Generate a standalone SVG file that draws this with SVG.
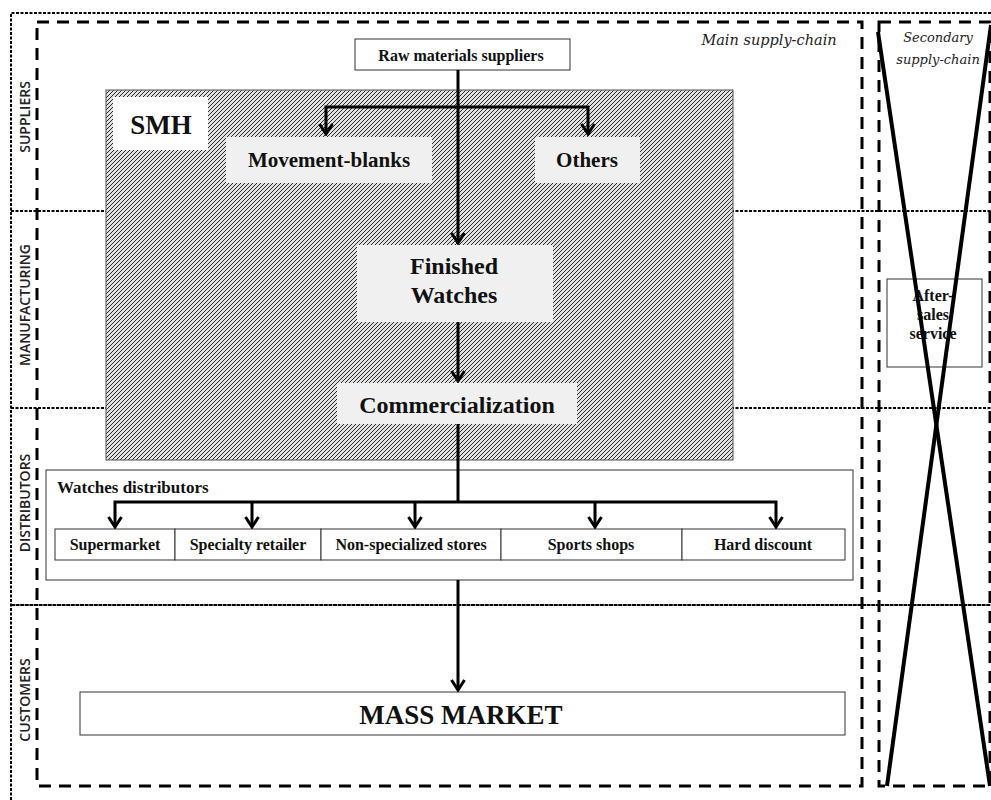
<svg xmlns="http://www.w3.org/2000/svg" width="991" height="800" viewBox="0 0 991 800">
<defs>
<pattern id="hatch" patternUnits="userSpaceOnUse" width="4" height="4">
<rect width="4" height="4" fill="#e0e0e0"/>
<path d="M-1,1 L1,-1 M0,4 L4,0 M3,5 L5,3" stroke="#2a2a2a" stroke-width="1"/>
</pattern>
<marker id="arr" viewBox="0 0 14 16" refX="12" refY="8" markerWidth="14" markerHeight="16" markerUnits="userSpaceOnUse" orient="auto-start-reverse">
<path d="M2,1.5 L12,8 L2,14.5" fill="none" stroke="#000" stroke-width="3"/>
</marker>
</defs>
<style>
.lane{stroke:#000;stroke-width:2;stroke-dasharray:3 1.5;fill:none}
.dash{stroke:#000;stroke-width:3;stroke-dasharray:12 8;fill:none}
.conn{stroke:#000;stroke-width:3;fill:none}
.box{fill:#fff;stroke:#333;stroke-width:1}
.gbox{fill:#f0f0f0;stroke:none}
.t{font-family:"Liberation Serif",serif;font-weight:bold;fill:#111;text-anchor:middle}
.lbl{font-family:"Open Sans","DejaVu Sans",sans-serif;font-size:14px;font-weight:600;fill:#222;text-anchor:middle}
.it{font-family:"DejaVu Serif","Liberation Serif",serif;font-style:italic;fill:#222;text-anchor:middle}
</style>
<rect width="991" height="800" fill="#fff"/>
<g id="frame">
<path class="lane" d="M11,800 V13 H991"/>
<line class="lane" x1="11" y1="211" x2="991" y2="211"/>
<line class="lane" x1="11" y1="408" x2="991" y2="408"/>
<line class="lane" x1="11" y1="605" x2="991" y2="605" style="stroke-dasharray:4 0.6"/>
<rect class="dash" x="37" y="22" width="825" height="764"/>
<rect class="dash" x="879" y="22" width="111" height="764"/>
</g>
<g id="lanes">
<text class="lbl" transform="translate(30,117) rotate(-90)">SUPPLIERS</text>
<text class="lbl" transform="translate(30,305) rotate(-90)">MANUFACTURING</text>
<text class="lbl" transform="translate(30,503) rotate(-90)">DISTRIBUTORS</text>
<text class="lbl" transform="translate(30,700) rotate(-90)">CUSTOMERS</text>
<text class="it" x="769" y="45" font-size="14.5">Main supply-chain</text>
<text class="it" x="938" y="42" font-size="13">Secondary</text>
<text class="it" x="938" y="64" font-size="13">supply-chain</text>
</g>
<g id="smh">
<rect x="106" y="90" width="627" height="370" fill="url(#hatch)" stroke="#555" stroke-width="1"/>
<rect x="113" y="97" width="95" height="53" fill="#fff"/>
<text class="t" x="161" y="134" font-size="27">SMH</text>
</g>
<g id="raw">
<rect class="box" x="355" y="39" width="215" height="31"/>
<text class="t" x="461" y="61" font-size="16">Raw materials suppliers</text>
</g>
<g id="movement">
<rect class="gbox" x="226" y="137" width="206" height="46"/>
<text class="t" x="329" y="167" font-size="21">Movement-blanks</text>
</g>
<g id="others">
<rect class="gbox" x="535" y="137" width="105" height="46"/>
<text class="t" x="587" y="167" font-size="21">Others</text>
</g>
<g id="finished">
<rect class="gbox" x="357" y="245" width="196" height="77"/>
<text class="t" x="454" y="274" font-size="24">Finished</text>
<text class="t" x="454" y="303" font-size="24">Watches</text>
</g>
<g id="commercialization">
<rect class="gbox" x="337" y="383" width="240" height="41"/>
<text class="t" x="457" y="413" font-size="24">Commercialization</text>
</g>
<g id="distributors">
<rect class="box" x="46" y="470" width="807" height="110" stroke="#555"/>
<text class="t" x="57" y="493" font-size="17" style="text-anchor:start">Watches distributors</text>
</g>
<g id="supermarket"><rect class="box" x="55" y="529" width="120" height="31"/><text class="t" x="115" y="550" font-size="16">Supermarket</text></g>
<g id="specialty"><rect class="box" x="175" y="529" width="146" height="31"/><text class="t" x="248" y="550" font-size="16">Specialty retailer</text></g>
<g id="nonspecialized"><rect class="box" x="321" y="529" width="180" height="31"/><text class="t" x="411" y="550" font-size="16">Non-specialized stores</text></g>
<g id="sports"><rect class="box" x="501" y="529" width="181" height="31"/><text class="t" x="591" y="550" font-size="16">Sports shops</text></g>
<g id="harddiscount"><rect class="box" x="682" y="529" width="163" height="31"/><text class="t" x="763" y="550" font-size="16">Hard discount</text></g>
<g id="massmarket">
<rect class="box" x="80" y="692" width="765" height="43"/>
<text class="t" x="461" y="724" font-size="27">MASS MARKET</text>
</g>
<g id="aftersales">
<rect class="box" x="887" y="279" width="95" height="88"/>
<text class="t" x="933" y="301" font-size="16">After-</text>
<text class="t" x="933" y="320" font-size="16">sales</text>
<text class="t" x="933" y="339" font-size="16">service</text>
</g>
<g id="cross">
<line x1="878" y1="32" x2="990" y2="786" stroke="#000" stroke-width="4"/>
<line x1="991" y1="25" x2="887" y2="786" stroke="#000" stroke-width="4"/>
</g>
<g id="connectors">
<line class="conn" x1="458" y1="70" x2="458" y2="243" marker-end="url(#arr)"/>
<polyline class="conn" points="326,134 326,107 588,107 588,134" marker-start="url(#arr)" marker-end="url(#arr)"/>
<line class="conn" x1="458" y1="322" x2="458" y2="381" marker-end="url(#arr)"/>
<line class="conn" x1="458" y1="424" x2="458" y2="502"/>
<polyline class="conn" points="115,527 115,502 776,502 776,527" marker-start="url(#arr)" marker-end="url(#arr)"/>
<line class="conn" x1="252" y1="502" x2="252" y2="527" marker-end="url(#arr)"/>
<line class="conn" x1="415" y1="502" x2="415" y2="527" marker-end="url(#arr)"/>
<line class="conn" x1="595" y1="502" x2="595" y2="527" marker-end="url(#arr)"/>
<line class="conn" x1="458" y1="580" x2="458" y2="690" marker-end="url(#arr)"/>
</g>
</svg>
